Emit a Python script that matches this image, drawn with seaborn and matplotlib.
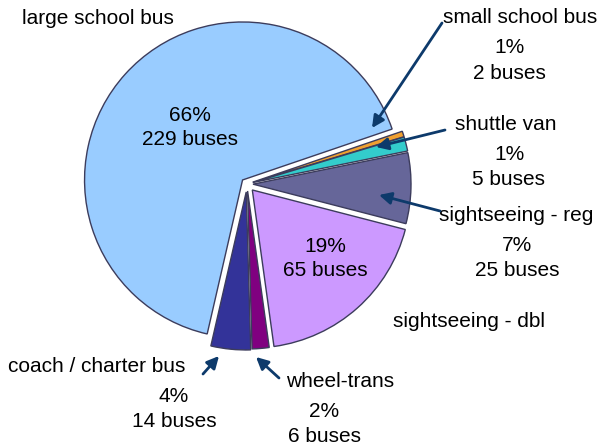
import numpy as np
import matplotlib
matplotlib.use("Agg")
import matplotlib.pyplot as plt
import seaborn as sns

# bus types, clockwise from the top-right boundary
names = ["small school bus", "shuttle van", "sightseeing - reg", "sightseeing - dbl",
         "wheel-trans", "coach / charter bus", "large school bus"]
buses = [2, 5, 25, 65, 6, 14, 229]
colors = ["#F0A030", "#33CCCC", "#666699", "#CC99FF", "#800080", "#333399", "#99CCFF"]
explode = [6, 6, 6, 8, 7, 8, 6]

total = sum(buses)
pcts = [round(v / total * 100) for v in buses]

W, H = 601, 446
CX, CY, R = 247, 184, 158

sns.set_theme(style="white")
plt.rcParams["font.family"] = ["Liberation Sans", "DejaVu Sans"]

fig = plt.figure(figsize=(6.01, 4.46), dpi=100)
ax = fig.add_axes([0, 0, 1, 1])

ax.pie(buses, colors=colors, explode=explode, center=(CX, H - CY), radius=R,
       startangle=18.8, counterclock=False,
       wedgeprops=dict(edgecolor="#3c3c5c", linewidth=1))

ax.set_xlim(0, W)
ax.set_ylim(0, H)
ax.set_aspect("equal")
ax.axis("off")

FS = 15
ARROW = "#0D3A6B"


def txt(x, y, s, ha="center"):
    ax.text(x, H - y, s, fontsize=FS, ha=ha, va="baseline", color="black")


# label layout in pixels: (name x, name baseline, value x, pct baseline, count baseline)
layout = {
    "small school bus": (520, 23, 509, 53, 79),
    "shuttle van": (506, 130, 509, 160, 185),
    "sightseeing - reg": (516, 221, 517, 251, 276),
    "sightseeing - dbl": (469, 327, 325, 252, 276),
    "wheel-trans": (340, 387, 324, 417, 442),
    "coach / charter bus": (97, 372, 174, 402, 427),
    "large school bus": (98, 24, 190, 121, 145),
}

for name, v, p in zip(names, buses, pcts):
    nx, ny, vx, py, cy = layout[name]
    txt(nx, ny, name)
    txt(vx, py, f"{p}%")
    txt(vx, cy, f"{v} buses")

# arrows: (tail, tip)
arrows = [((442, 23), (372, 128)),
          ((445, 130), (376, 147)),
          ((440, 211), (379, 195)),
          ((203, 374), (219, 356)),
          ((279, 378), (256, 357))]
for (tx, ty), (hx, hy) in arrows:
    ax.annotate("", xy=(hx, H - hy), xytext=(tx, H - ty),
                arrowprops=dict(arrowstyle="-|>", color=ARROW, lw=2,
                                mutation_scale=18, shrinkA=0, shrinkB=0))

fig.savefig("out.png", dpi=100)
